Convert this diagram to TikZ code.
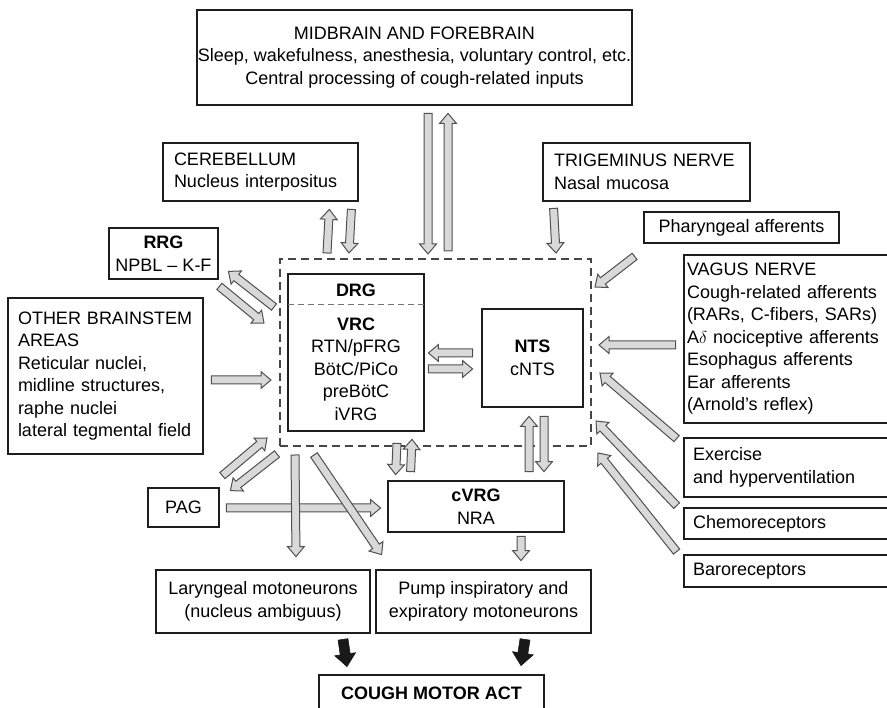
\documentclass[tikz,border=0pt]{standalone}
\usepackage{fontspec}
\setmainfont{Liberation Sans}
\usetikzlibrary{calc}
\definecolor{boxline}{RGB}{30,30,30}
\definecolor{arrowfill}{RGB}{217,217,217}
\definecolor{arrowline}{RGB}{80,80,80}
\definecolor{dashc}{RGB}{70,70,70}

% block arrow: style, half shaft width, from, to
\newcommand\fatarrow[4]{%
  \coordinate (fa-s) at #3;
  \coordinate (fa-e) at #4;
  \coordinate (fa-h) at ($(fa-e)!2.5*#2!(fa-s)$);
  \draw[#1] ($(fa-s)!#2!90:(fa-e)$) -- ($(fa-h)!#2!90:(fa-e)$)
    -- ($(fa-h)!2.1*#2!90:(fa-e)$) -- (fa-e)
    -- ($(fa-h)!2.1*#2!-90:(fa-e)$) -- ($(fa-h)!#2!-90:(fa-e)$)
    -- ($(fa-s)!#2!-90:(fa-e)$) -- cycle;}
\newcommand\grayarrow[2]{\fatarrow{blk}{4pt}{#1}{#2}}
\newcommand\blackarrow[2]{\fatarrow{blkdark}{5pt}{#1}{#2}}

\begin{document}
\begin{tikzpicture}[x=1pt, y=-1pt,
  font=\fontsize{18}{22.5}\selectfont,
  box/.style={draw=boxline, line width=2.8pt, align=center, inner sep=0pt},
  lbox/.style={draw=boxline, line width=2.8pt, align=left, inner ysep=0pt},
  core/.style={draw=dashc, line width=2pt, dash pattern=on 8pt off 5pt},
  divider/.style={draw=black!55, line width=1pt, dash pattern=on 6pt off 4pt},
  blk/.style={fill=arrowfill, draw=arrowline, line width=1pt},
  blkdark/.style={fill=black!90, draw=black!90, line width=0.6pt}
]
  \path[use as bounding box, clip] (0,0) rectangle (887,708);

  % upper boxes
  \node[box, minimum width=435pt, minimum height=95pt] (mid) at (414.5,57.5)
        {MIDBRAIN AND FOREBRAIN\\ Sleep, wakefulness, anesthesia, voluntary control, etc.\\ Central processing of cough-related inputs};
  \node[lbox, text width=173pt, inner xsep=11pt, minimum height=58pt] (cereb) at (260.5,172)
        {CEREBELLUM\\ Nucleus interpositus};
  \node[lbox, text width=185pt, inner xsep=11pt, minimum height=58pt] (trig) at (646.5,172)
        {TRIGEMINUS NERVE\\ Nasal mucosa};
  \node[box, minimum width=195pt, minimum height=31pt] (phar) at (741.5,227.5) {Pharyngeal afferents};

  % left side
  \node[box, minimum width=109pt, minimum height=51pt] (rrg) at (163.5,253.5) {\textbf{RRG}\\ NPBL – K-F};
  \node[lbox, text width=175pt, inner xsep=10pt, minimum height=156pt] (other) at (105.5,376)
        {OTHER BRAINSTEM\\ AREAS\\ Reticular nuclei,\\ midline structures,\\ raphe nuclei\\ lateral tegmental field};
  \node[box, minimum width=71pt, minimum height=39pt] (pag) at (183.5,507.5) {PAG};

  % core network
  \node[core, minimum width=311pt, minimum height=187pt] (core) at (435.5,352.5) {};
  \node[box, minimum width=136pt, minimum height=157pt] (vrc) at (356,352.5) {};
  \draw[divider] ($(vrc.north west)+(1.5,32)$) -- ($(vrc.north east)+(-1.5,32)$);
  \node[font=\fontsize{18}{22.5}\selectfont\bfseries] (drg) at (356,290.5) {DRG};
  \node[align=center, inner sep=0pt] (vrclist) at (356,369)
        {\textbf{VRC}\\ RTN/pFRG\\ BötC/PiCo\\ preBötC\\ iVRG};
  \node[box, minimum width=101pt, minimum height=98pt] (nts) at (532.5,358) {\textbf{NTS}\\ cNTS};
  \node[box, minimum width=176pt, minimum height=51pt] (cvrg) at (476,506.5) {\textbf{cVRG}\\ NRA};

  % right side
  \node[lbox, text width=215pt, inner xsep=3pt, minimum height=168pt] (vagus) at (794.5,339)
        {VAGUS NERVE\\ Cough-related afferents\\ (RARs, C-fibers, SARs)\\ A$\delta$ nociceptive afferents\\ Esophagus afferents\\ Ear afferents\\ (Arnold’s reflex)};
  \node[lbox, text width=203pt, inner xsep=9pt, minimum height=59pt] (exer) at (794.5,467.5)
        {Exercise\\ and hyperventilation};
  \node[lbox, text width=203pt, inner xsep=9pt, minimum height=31pt] (chemo) at (794.5,523.5) {Chemoreceptors};
  \node[lbox, text width=203pt, inner xsep=9pt, minimum height=32pt] (baro) at (794.5,571) {Baroreceptors};

  % output
  \node[box, minimum width=214pt, minimum height=63pt] (laryn) at (263,601.5)
        {Laryngeal motoneurons\\ (nucleus ambiguus)};
  \node[box, minimum width=215pt, minimum height=63pt] (pump) at (483.5,601.5)
        {Pump inspiratory and\\ expiratory motoneurons};
  \node[box, minimum width=225pt, minimum height=37pt] (cough) at (431.5,693.5) {\textbf{COUGH MOTOR ACT}};

  % arrows from above
  \grayarrow{($(mid.south)+(13.5,7)$)}{($(core.north)+(-7.5,-4)$)}
  \grayarrow{($(core.north)+(12.5,-7)$)}{($(mid.south)+(33.5,7)$)}
  \grayarrow{($(core.north west)+(48,-5)$)}{($(cereb.south east)+(-30,7)$)}
  \grayarrow{($(cereb.south east)+(-8,7)$)}{($(core.north west)+(70,-5)$)}
  \grayarrow{($(trig.south west)+(12,6)$)}{($(core.north east)+(-36,-5)$)}
  \grayarrow{($(phar.south west)+(-8,12)$)}{($(core.north east)+(3,29)$)}

  % arrows on the left
  \grayarrow{($(core.north west)+(-5,49)$)}{($(rrg.south east)+(9,-9)$)}
  \grayarrow{($(rrg.south east)+(0,6)$)}{($(core.north west)+(-15,65)$)}
  \grayarrow{($(other.east)+(7,4)$)}{($(core.west)+(-8,27.5)$)}
  \grayarrow{($(pag.north east)+(2,-11)$)}{($(core.south west)+(-12,-9)$)}
  \grayarrow{($(core.south west)+(-2,7)$)}{($(pag.north east)+(10,4)$)}
  \grayarrow{($(pag.east)+(6,0.5)$)}{($(cvrg.west)+(-6,1.5)$)}

  % arrows inside and below the core
  \grayarrow{($(nts.west)+(-8,-5)$)}{($(vrc.east)+(3,0.5)$)}
  \grayarrow{($(vrc.east)+(3,16.5)$)}{($(nts.west)+(-8,11)$)}
  \grayarrow{($(core.south west)+(16,8)$)}{($(laryn.north)+(33,-12)$)}
  \grayarrow{($(core.south west)+(35,8)$)}{($(pump.north west)+(7,-14)$)}
  \grayarrow{($(vrc.south)+(41,11)$)}{($(cvrg.north west)+(9,-5)$)}
  \grayarrow{($(cvrg.north west)+(24,-8)$)}{($(vrc.south)+(56,7)$)}
  \grayarrow{($(cvrg.north)+(53,-8)$)}{($(nts.south)+(-3.5,8)$)}
  \grayarrow{($(nts.south)+(11.5,8)$)}{($(cvrg.north)+(68,-8)$)}
  \grayarrow{($(cvrg.south)+(45,3)$)}{($(pump.north)+(37.5,-8)$)}

  % arrows on the right
  \grayarrow{($(vagus.west)+(-7,6)$)}{($(core.east)+(7,-7.5)$)}
  \grayarrow{($(exer.north west)+(-6,2)$)}{($(core.east)+(8,20.5)$)}
  \grayarrow{($(chemo.north west)+(-6,-1)$)}{($(core.east)+(4,68.5)$)}
  \grayarrow{($(baro.north west)+(-6,-2)$)}{($(core.south east)+(6,6)$)}

  % motor output
  \blackarrow{($(laryn.south)+(80,5)$)}{($(cough.north)+(-84.5,-7)$)}
  \blackarrow{($(pump.south)+(41.5,5)$)}{($(cough.north)+(89.5,-8)$)}
\end{tikzpicture}
\end{document}
